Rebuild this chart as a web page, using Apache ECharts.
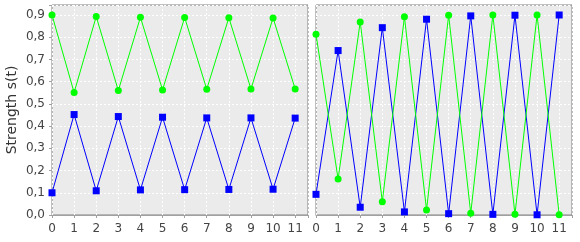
<!DOCTYPE html>
<html>
<head>
<meta charset="utf-8">
<script src="https://cdn.jsdelivr.net/npm/echarts@6/dist/echarts.min.js"></script>
<style>
html,body{margin:0;padding:0;background:#fff;}
#c{width:580px;height:242px;}
</style>
</head>
<body>
<div id="c"></div>
<script>
var steps = [0, 1, 2, 3, 4, 5, 6, 7, 8, 9, 10, 11];
var leftGreen = [0.900, 0.551, 0.893, 0.560, 0.890, 0.563, 0.889, 0.566, 0.888, 0.567, 0.887, 0.567];
var leftBlue  = [0.100, 0.452, 0.109, 0.443, 0.113, 0.440, 0.114, 0.437, 0.115, 0.437, 0.116, 0.436];
var rightGreen = [0.813, 0.162, 0.869, 0.060, 0.892, 0.023, 0.899, 0.008, 0.900, 0.003, 0.900, 0.001];
var rightBlue  = [0.093, 0.740, 0.035, 0.843, 0.014, 0.881, 0.006, 0.896, 0.003, 0.899, 0.001, 0.900];
var yTicks = ['0,0','0,1','0,2','0,3','0,4','0,5','0,6','0,7','0,8','0,9'];
var yTitle = 'Strength s(t)';

function pairs(vals){ return steps.map(function(s,i){ return [s, vals[i]]; }); }

var font = 'DejaVu Sans';
function xAxisFor(idx){
  return {
    type:'value', gridIndex: idx, min: 0, max: 11.58, interval: 1, offset: 4,
    axisLine:{show:true, lineStyle:{color:'#a0a0a0', width:1}},
    axisTick:{show:true, length:3, lineStyle:{color:'#a0a0a0'}},
    axisLabel:{color:'#444', fontFamily:font, fontSize:12, margin:4,
      formatter:function(v){ return Math.abs(v-Math.round(v))<1e-6 ? String(Math.round(v)) : ''; }},
    splitLine:{show:true, lineStyle:{color:'#ffffff', type:[2,2], width:1}}
  };
}
function yAxisFor(idx, showLabels){
  return {
    type:'value', gridIndex: idx, min: 0, max: 0.945, interval: 0.1,
    axisLine:{show:false},
    axisTick:{show:showLabels, length:3, lineStyle:{color:'#a0a0a0'}},
    axisLabel:{show:showLabels, color:'#444', fontFamily:font, fontSize:12, margin:7,
      formatter:function(v){ var k=Math.round(v*10); return Math.abs(v*10-k)<1e-6 ? yTicks[k] : ''; }},
    splitLine:{show:true, lineStyle:{color:'#ffffff', type:[2,2], width:1}},
    name: showLabels ? yTitle : '',
    nameLocation:'middle', nameGap:33, nameRotate:90,
    nameTextStyle:{color:'#333', fontFamily:font, fontSize:14}
  };
}
function lineSeries(idx, vals, color, symbol){
  return {
    type:'line', xAxisIndex: idx, yAxisIndex: idx, data: pairs(vals),
    symbol: symbol, symbolSize: 7, showSymbol: true,
    lineStyle:{color:color, width:1}, itemStyle:{color:color, borderWidth:0},
    animation:false, silent:true
  };
}

var chart = echarts.init(document.getElementById('c'), null, {renderer:'canvas'});
chart.setOption({
  animation:false,
  grid:[
    {left:52, top:5, width:256, height:210, show:true, backgroundColor:'#ebebeb', borderColor:'#808080', borderWidth:1},
    {left:316, top:5, width:256, height:210, show:true, backgroundColor:'#ebebeb', borderColor:'#808080', borderWidth:1}
  ],
  xAxis:[xAxisFor(0), xAxisFor(1)],
  yAxis:[yAxisFor(0,true), yAxisFor(1,false)],
  series:[
    lineSeries(0, leftBlue, '#0000ff', 'rect'),
    lineSeries(0, leftGreen, '#00ff00', 'circle'),
    lineSeries(1, rightBlue, '#0000ff', 'rect'),
    lineSeries(1, rightGreen, '#00ff00', 'circle')
  ]
});
</script>
</body>
</html>
